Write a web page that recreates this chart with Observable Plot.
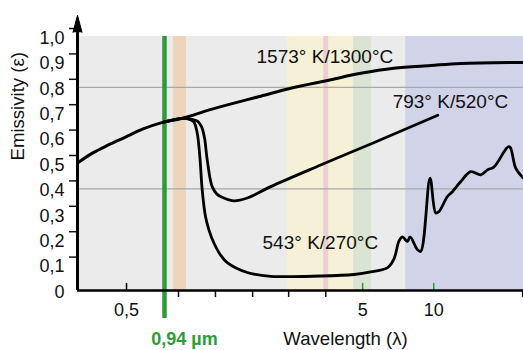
<!DOCTYPE html>
<html><head><meta charset="utf-8">
<script src="https://cdn.jsdelivr.net/npm/d3@7"></script>
<script src="https://cdn.jsdelivr.net/npm/@observablehq/plot@0.6"></script>
<style>body{margin:0;background:#fff;}</style>
</head><body><div id="chart"></div>
<script>
// Wavelength (µm) and emissivity readings
const curve1573 = [[0.31,0.502],[0.3585,0.541],[0.419,0.573],[0.495,0.604],[0.584,0.635],[0.717,0.663],[0.863,0.678],[1.112,0.710],[1.313,0.729],[1.85,0.765],[2.476,0.796],[3.55,0.827],[4.91,0.855],[6.77,0.875],[9.71,0.886],[13.0,0.894],[24,0.898]];
const curve793 = [[0.717,0.663],[0.863,0.678],[0.933,0.675],[0.999,0.667],[1.039,0.645],[1.070,0.600],[1.091,0.535],[1.109,0.487],[1.130,0.440],[1.153,0.409],[1.205,0.380],[1.251,0.370],[1.42,0.353],[1.623,0.364],[2.04,0.409],[3.32,0.494],[5.41,0.577],[10.4,0.690]];
const curve543 = [[0.717,0.663],[0.863,0.678],[0.915,0.676],[0.964,0.664],[0.996,0.620],[1.022,0.527],[1.046,0.396],[1.080,0.291],[1.120,0.235],[1.171,0.188],[1.25,0.140],[1.335,0.110],[1.623,0.071],[2.04,0.056],[3.32,0.057],[4.6,0.063],[5.41,0.073],[6.38,0.09],[6.79,0.125],[7.13,0.195],[7.37,0.211],[7.74,0.193],[7.94,0.211],[8.53,0.161],[8.81,0.154],[9.65,0.442],[10.2,0.305],[10.53,0.311],[11.43,0.370],[12.0,0.389],[13.02,0.429],[14.35,0.468],[15.82,0.455],[16.89,0.475],[18.02,0.487],[20.86,0.566],[22.27,0.481],[24.0,0.442]];

const bandStart = [0.31, 0.79, 2.405, 3.42, 4.58, 7.61];
const bandEnd   = [24,   0.897, 4.58, 3.59, 5.46, 24];
const bandColor = ["#eaebea", "#efd4bc", "#f6f0d6", "#ecced3", "#dbe4d3", "#d1d4e9"];
const bands = bandStart.map((s, i) => ({x1: s, x2: bandEnd[i], color: bandColor[i]}));

const curveLabels = [
  {text: "1573° K/1300°C", x: 1.777, y: 0.918},
  {text: "793° K/520°C", x: 6.70, y: 0.741},
  {text: "543° K/270°C", x: 1.884, y: 0.188}
];
const gridValues = [0.4, 0.8];
const yTickValues = [0, 0.1, 0.2, 0.3, 0.4, 0.5, 0.6, 0.7, 0.8, 0.9, 1.0];
const xLabelTicks = [0.5, 5, 10];
const xMinorTicks = [0.83, 1.19, 1.71, 2.43, 3.49, 23.8];
const xInsideBlack = [0.5];
const xInsideGreen = [5, 10];
const markerPos = 0.724;
const markerLabel = "0,94 µm";
const xDomain = [0.31, 24];
const green = "#2b9c36";

const fmtY = d => d === 0 ? "0" : d.toFixed(1).replace(".", ",");
const fmtX = d => String(d).replace(".", ",");
const fs = 18;

const lineOpts = {x: d => d[0], y: d => d[1], curve: "catmull-rom"};
const shadow = {...lineOpts, stroke: "#000", strokeOpacity: 0.35, strokeWidth: 5, dx: 1, dy: 1.5, ariaLabel: "shadow"};
const main = {...lineOpts, stroke: "#000", strokeWidth: 2.8};

const chart = Plot.plot({
  width: 523, height: 350,
  marginLeft: 77, marginRight: 0, marginTop: 36, marginBottom: 60,
  style: {fontFamily: "'Liberation Sans', Arial, sans-serif", fontSize: "18px", color: "#111", background: "#fff"},
  x: {type: "log", domain: xDomain},
  y: {domain: [0, 1]},
  color: {type: "identity"},
  marks: [
    Plot.rect(bands, {x1: "x1", x2: "x2", fill: "color"}),
    Plot.ruleY(gridValues, {stroke: "#a8a9a8", strokeWidth: 1.3}),
    Plot.ruleX([markerPos], {stroke: green, strokeWidth: 4.5, insetBottom: -28}),
    Plot.line(curve1573, shadow),
    Plot.line(curve793, shadow),
    Plot.line(curve543, shadow),
    Plot.line(curve1573, {...main, strokeWidth: 3}),
    Plot.line(curve793, main),
    Plot.line(curve543, main),
    Plot.ruleX(xInsideBlack, {y1: 0, y2: 0.028, stroke: "#000", strokeWidth: 1.5}),
    Plot.ruleX(xInsideGreen, {y1: 0, y2: 0.028, stroke: green, strokeWidth: 1.5}),
    Plot.axisX(xMinorTicks, {tickSize: 7, tickFormat: () => "", label: null, strokeWidth: 1.5}),
    Plot.text(xLabelTicks, {x: d => d, frameAnchor: "bottom", lineAnchor: "middle", dy: 20, text: fmtX, fontSize: fs, fill: "#111"}),
    Plot.axisY(yTickValues.filter(d => d > 0), {tickSize: 8, tickFormat: () => "", label: null, dy: -8, strokeWidth: 1.5}),
    Plot.axisY(yTickValues, {tickSize: 0, tickPadding: 13, tickFormat: fmtY, label: null, fontSize: fs, dy: 1.5}),
    Plot.ruleY([0], {stroke: "#000", strokeWidth: 2.5}),
    Plot.ruleX([xDomain[0]], {y1: 0, y2: 1.05, stroke: "#000", strokeWidth: 3}),
    Plot.vector([xDomain[0]], {x: d => d, y: 1.05, shape: "spike", length: 17, r: 4.5, fill: "#000", stroke: "#000", strokeWidth: 1}),
    Plot.text(curveLabels, {x: "x", y: "y", text: "text", textAnchor: "start", fontSize: 19, fill: "#111"}),
    Plot.text(["Wavelength (λ)"], {frameAnchor: "bottom", lineAnchor: "middle", dx: 45, dy: 49, fontSize: 18.6, fill: "#111"}),
    Plot.text(["Emissivity (ε)"], {frameAnchor: "left", rotate: -90, dx: -59, dy: -3, fontSize: 18.6, fill: "#111"}),
    Plot.text([markerPos], {x: d => d, frameAnchor: "bottom", lineAnchor: "middle", dy: 49, dx: 20, text: () => markerLabel, fill: green, fontWeight: "bold", fontSize: fs})
  ]
});
chart.querySelectorAll('g[aria-label="shadow"]').forEach(g => g.style.filter = "blur(1.4px)");
document.getElementById("chart").appendChild(chart);
</script>
</body></html>
